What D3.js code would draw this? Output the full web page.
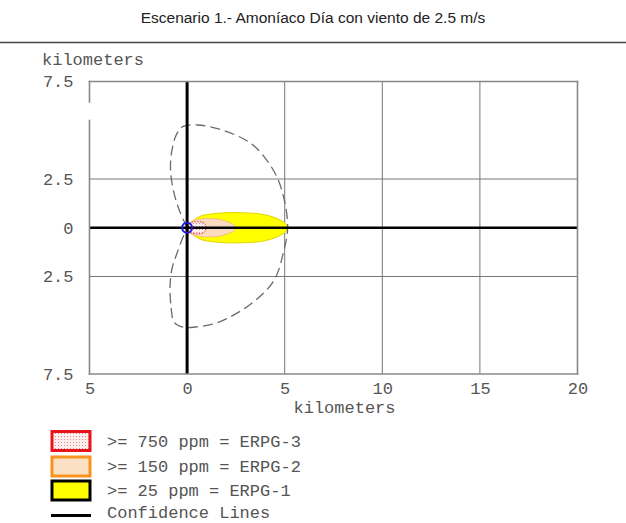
<!DOCTYPE html>
<html>
<head>
<meta charset="utf-8">
<script src="https://cdn.jsdelivr.net/npm/d3@7"></script>
<style>
  body { margin: 0; background: #ffffff; }
  svg { display: block; }
</style>
</head>
<body>
<svg id="chart" width="626" height="523"></svg>
<script>
// ---- Data ----
const title = "Escenario 1.- Amoníaco Día con viento de 2.5 m/s";
const axisUnit = "kilometers";

const xTicks = [-5, 0, 5, 10, 15, 20];
const xTickLabels = ["5", "0", "5", "10", "15", "20"];
const yTicks = [7.5, 2.5, 0, -2.5, -7.5];
const yTickLabels = ["7.5", "2.5", "0", "2.5", "7.5"];
const xGrid = [5, 10, 15];
const yGrid = [2.5, -2.5];

// Threat zones: downwind distance (km) and crosswind half-width (km)
const erpg1Dist = [0, 0.1, 0.3, 0.7, 1.2, 2.0, 2.8, 3.8, 4.4, 4.8, 5.05, 5.15];
const erpg1Half = [0, 0.2, 0.36, 0.6, 0.7, 0.77, 0.77, 0.7, 0.55, 0.38, 0.2, 0];
const erpg2Dist = [0, 0.1, 0.3, 0.7, 1.2, 1.7, 2.1, 2.4, 2.5];
const erpg2Half = [0, 0.2, 0.35, 0.45, 0.47, 0.42, 0.3, 0.15, 0];
const erpg3Dist = [0.05, 0.12, 0.25, 0.5, 0.8, 0.92, 0.97];
const erpg3Half = [0, 0.2, 0.28, 0.31, 0.28, 0.18, 0];

// Wind-direction confidence lines (km)
const confX = [0, -0.4, -0.7, -0.85, -0.78, -0.56, -0.2, 0.5, 1.6, 3.3, 4.45, 4.95, 5.15,
               4.95, 4.45, 3.3, 1.6, 0.5, -0.2, -0.66, -0.82, -0.87, -0.75, -0.55, -0.3, 0];
const confY = [0, 0.9, 1.9, 3.0, 3.95, 4.75, 5.2, 5.27, 5.07, 4.3, 2.9, 1.55, 0,
               -1.2, -2.7, -3.88, -4.85, -5.08, -5.1, -4.85, -4.08, -2.9, -2.0, -1.4, -0.7, 0];

const legendLabels = [">= 750 ppm = ERPG-3", ">= 150 ppm = ERPG-2", ">= 25 ppm = ERPG-1", "Confidence Lines"];
const legendStroke = ["#e8141b", "#f7931e", "#000000", "#000000"];
const legendFill = ["url(#dots)", "#fbe0c4", "#ffff00", "none"];

// ---- Layout ----
const svg = d3.select("#chart");
const mono = "'Liberation Mono', 'Courier New', monospace";
const x = d3.scaleLinear().domain([-5, 20]).range([89.5, 577.5]);
const y = d3.scaleLinear().domain([-7.5, 7.5]).range([374, 81.5]);

// dotted fill for the innermost zone
const defs = svg.append("defs");
const pat = defs.append("pattern").attr("id", "dots")
  .attr("width", 3).attr("height", 3).attr("patternUnits", "userSpaceOnUse");
pat.append("rect").attr("width", 3).attr("height", 3).attr("fill", "#fdeeee");
pat.append("rect").attr("x", 1).attr("y", 1).attr("width", 1).attr("height", 1).attr("fill", "#e58a8a");

// title and separator
svg.append("text").attr("x", 313).attr("y", 23).attr("text-anchor", "middle")
  .attr("font-family", "'Liberation Sans', Arial, sans-serif").attr("font-size", 15.5)
  .attr("fill", "#222").text(title);
svg.append("line").attr("x1", 0).attr("x2", 626).attr("y1", 42.5).attr("y2", 42.5)
  .attr("stroke", "#444").attr("stroke-width", 1.3);

// grid
const g = svg.append("g");
g.selectAll(".vg").data(xGrid).join("line")
  .attr("x1", d => x(d)).attr("x2", d => x(d)).attr("y1", y(7.5)).attr("y2", y(-7.5))
  .attr("stroke", "#777").attr("stroke-width", 1);
g.selectAll(".hg").data(yGrid).join("line")
  .attr("x1", x(-5)).attr("x2", x(20)).attr("y1", d => y(d)).attr("y2", d => y(d))
  .attr("stroke", "#777").attr("stroke-width", 1);

// zone outlines built from profile arrays
function zonePoints(dist, half) {
  const upper = dist.map((d, i) => [d, half[i]]);
  const lower = dist.map((d, i) => [d, -half[i]]).slice(1, -1).reverse();
  return upper.concat(lower);
}
const zoneLine = d3.line().x(d => x(d[0])).y(d => y(d[1])).curve(d3.curveCatmullRomClosed.alpha(0.5));

g.append("path").attr("d", zoneLine(zonePoints(erpg1Dist, erpg1Half)))
  .attr("fill", "#ffff00").attr("stroke", "#e2d400").attr("stroke-width", 1);
g.append("path").attr("d", zoneLine(zonePoints(erpg2Dist, erpg2Half)))
  .attr("fill", "#fbdcc0").attr("stroke", "#f2b27a").attr("stroke-width", 0.8);
g.append("path").attr("d", zoneLine(zonePoints(erpg3Dist, erpg3Half)))
  .attr("fill", "url(#dots)").attr("stroke", "#e03030").attr("stroke-width", 1)
  .attr("stroke-dasharray", "1.5 1.2");

// confidence lines
const confLine = d3.line().x(d => x(d[0])).y(d => y(d[1])).curve(d3.curveCatmullRom.alpha(0.5));
g.append("path").attr("d", confLine(confX.map((v, i) => [v, confY[i]])))
  .attr("fill", "none").attr("stroke", "#6a6a6a").attr("stroke-width", 1.3)
  .attr("stroke-dasharray", "10 5");

// source axes
g.append("line").attr("x1", x(-5)).attr("x2", x(20)).attr("y1", y(0)).attr("y2", y(0))
  .attr("stroke", "#000").attr("stroke-width", 2.5);
g.append("line").attr("x1", x(0)).attr("x2", x(0)).attr("y1", y(7.5)).attr("y2", y(-7.5))
  .attr("stroke", "#000").attr("stroke-width", 3);

// frame
const frame = [
  [[-5, 7.5], [20, 7.5]], [[20, 7.5], [20, -7.5]], [[20, -7.5], [-5, -7.5]],
  [[-5, 7.5], [-5, 6.45]], [[-5, 5.5], [-5, -7.5]]
];
g.selectAll(".frame").data(frame).join("line")
  .attr("x1", d => x(d[0][0])).attr("y1", d => y(d[0][1]))
  .attr("x2", d => x(d[1][0])).attr("y2", d => y(d[1][1]))
  .attr("stroke", "#888").attr("stroke-width", 1.6).attr("stroke-linecap", "square");

// release point
g.append("circle").attr("cx", x(0)).attr("cy", y(0)).attr("r", 5)
  .attr("fill", "none").attr("stroke", "#1a1ad6").attr("stroke-width", 2);

// axes
const yAxis = d3.axisLeft(y).tickValues(yTicks).tickSize(0).tickPadding(16)
  .tickFormat((d, i) => yTickLabels[i]);
const ya = svg.append("g").attr("transform", `translate(${x(-5)},0)`).call(yAxis);
ya.select(".domain").remove();
ya.selectAll("text").attr("font-family", mono).attr("font-size", 17).attr("fill", "#555");

const xAxis = d3.axisBottom(x).tickValues(xTicks).tickSize(0).tickPadding(8)
  .tickFormat((d, i) => xTickLabels[i]);
const xa = svg.append("g").attr("transform", `translate(0,${y(-7.5)})`).call(xAxis);
xa.select(".domain").remove();
xa.selectAll("text").attr("font-family", mono).attr("font-size", 17).attr("fill", "#555");

svg.append("text").attr("x", 42).attr("y", 65).attr("font-family", mono)
  .attr("font-size", 17).attr("fill", "#555").text(axisUnit);
svg.append("text").attr("x", 344.5).attr("y", 413).attr("text-anchor", "middle")
  .attr("font-family", mono).attr("font-size", 17).attr("fill", "#555").text(axisUnit);

// legend
const rowY = [441, 466.5, 490.5, 515.5];
const leg = svg.append("g");
legendLabels.forEach((lab, i) => {
  if (i < 3) {
    leg.append("rect").attr("x", 52).attr("y", rowY[i] - 9.5).attr("width", 38).attr("height", 19)
      .attr("fill", legendFill[i]).attr("stroke", legendStroke[i]).attr("stroke-width", 3);
  } else {
    leg.append("line").attr("x1", 51).attr("x2", 91).attr("y1", rowY[i]).attr("y2", rowY[i])
      .attr("stroke", legendStroke[i]).attr("stroke-width", 3);
  }
  leg.append("text").attr("x", 107).attr("y", i < 3 ? rowY[i] : rowY[i] - 3.5).attr("dy", "0.35em")
    .attr("font-family", mono).attr("font-size", 17).attr("fill", "#555").text(lab);
});
</script>
</body>
</html>
